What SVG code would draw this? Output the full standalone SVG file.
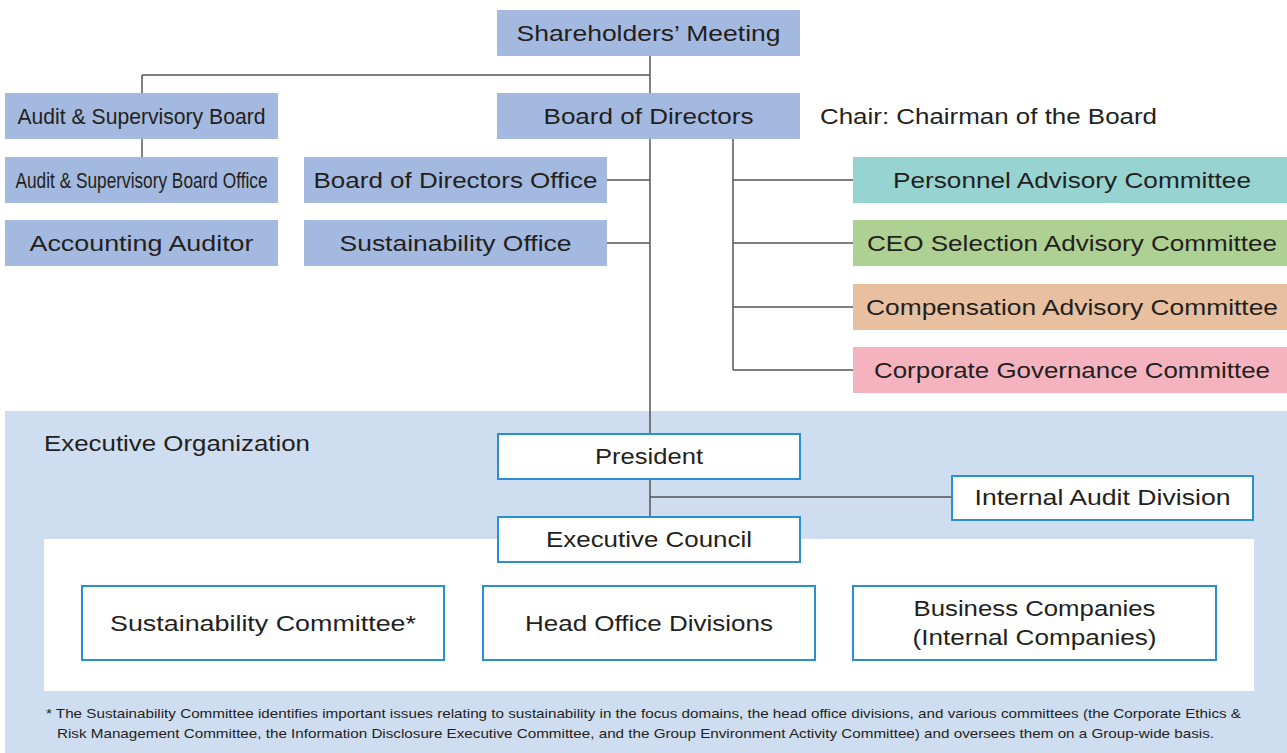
<svg xmlns="http://www.w3.org/2000/svg" width="1287" height="753" viewBox="0 0 1287 753">
<style>
text{font-family:"Liberation Sans",Arial,sans-serif;fill:#231f20;font-size:22px}
.b{fill:#a4b9df}
.w{fill:#fff;stroke:#2a8fd0;stroke-width:2}
.c{stroke:#555;stroke-width:1.5;fill:none}
.m{text-anchor:middle}
.fn{font-size:13px}
</style>
<rect x="0" y="0" width="1287" height="753" fill="#fff"/>
<rect x="5" y="411" width="1282" height="342" fill="#cfddf0"/>
<rect x="44" y="539" width="1210" height="152" fill="#fff"/>
<text x="44" y="451" textLength="266" lengthAdjust="spacingAndGlyphs">Executive Organization</text>
<g id="connectors">
<path class="c" d="M142,75H650M650,56V434M142,75V93M142,139V157M607,180H650M607,243H650M733,139V370M733,180H853M733,243H853M733,307H853M733,370H853M650,479V517M650,497H952"/>
</g>
<g id="shareholders"><rect class="b" x="497" y="10" width="303" height="46"/><text class="m" x="648.5" y="41" textLength="264" lengthAdjust="spacingAndGlyphs">Shareholders’ Meeting</text></g>
<g id="audit-board"><rect class="b" x="5" y="93" width="273" height="46"/><text class="m" x="141.5" y="124" textLength="248" lengthAdjust="spacingAndGlyphs">Audit &amp; Supervisory Board</text></g>
<g id="audit-office"><rect class="b" x="5" y="157" width="273" height="46"/><text class="m" x="141.5" y="188" textLength="252" lengthAdjust="spacingAndGlyphs">Audit &amp; Supervisory Board Office</text></g>
<g id="accounting"><rect class="b" x="5" y="220" width="273" height="46"/><text class="m" x="141.5" y="251" textLength="224" lengthAdjust="spacingAndGlyphs">Accounting Auditor</text></g>
<g id="board"><rect class="b" x="497" y="93" width="303" height="46"/><text class="m" x="648.5" y="124" textLength="210" lengthAdjust="spacingAndGlyphs">Board of Directors</text></g>
<text x="820" y="124" textLength="337" lengthAdjust="spacingAndGlyphs">Chair: Chairman of the Board</text>
<g id="board-office"><rect class="b" x="304" y="157" width="303" height="46"/><text class="m" x="455.5" y="188" textLength="284" lengthAdjust="spacingAndGlyphs">Board of Directors Office</text></g>
<g id="sust-office"><rect class="b" x="304" y="220" width="303" height="46"/><text class="m" x="455.5" y="251" textLength="232" lengthAdjust="spacingAndGlyphs">Sustainability Office</text></g>
<g id="personnel"><rect x="853" y="157" width="434" height="46" fill="#97d4d1"/><text class="m" x="1072" y="188" textLength="358" lengthAdjust="spacingAndGlyphs">Personnel Advisory Committee</text></g>
<g id="ceo"><rect x="853" y="220" width="434" height="46" fill="#aed092"/><text class="m" x="1072" y="251" textLength="410" lengthAdjust="spacingAndGlyphs">CEO Selection Advisory Committee</text></g>
<g id="compensation"><rect x="853" y="284" width="434" height="46" fill="#e8c0a0"/><text class="m" x="1072" y="315" textLength="412" lengthAdjust="spacingAndGlyphs">Compensation Advisory Committee</text></g>
<g id="governance"><rect x="853" y="347" width="434" height="46" fill="#f5b3c0"/><text class="m" x="1072" y="378" textLength="396" lengthAdjust="spacingAndGlyphs">Corporate Governance Committee</text></g>
<g id="president"><rect class="w" x="498" y="434" width="302" height="45"/><text class="m" x="649" y="464" textLength="108" lengthAdjust="spacingAndGlyphs">President</text></g>
<g id="internal-audit"><rect class="w" x="952" y="476" width="301" height="44"/><text class="m" x="1102.5" y="505" textLength="256" lengthAdjust="spacingAndGlyphs">Internal Audit Division</text></g>
<g id="exec-council"><rect class="w" x="498" y="517" width="302" height="45"/><text class="m" x="649" y="547" textLength="206" lengthAdjust="spacingAndGlyphs">Executive Council</text></g>
<g id="sust-committee"><rect class="w" x="82" y="586" width="362" height="74"/><text class="m" x="263" y="631" textLength="306" lengthAdjust="spacingAndGlyphs">Sustainability Committee*</text></g>
<g id="head-office"><rect class="w" x="483" y="586" width="332" height="74"/><text class="m" x="649" y="631" textLength="248" lengthAdjust="spacingAndGlyphs">Head Office Divisions</text></g>
<g id="business"><rect class="w" x="853" y="586" width="363" height="74"/><text class="m" x="1034.5" y="616" textLength="242" lengthAdjust="spacingAndGlyphs">Business Companies</text><text class="m" x="1034.5" y="645" textLength="244" lengthAdjust="spacingAndGlyphs">(Internal Companies)</text></g>
<text class="fn" x="46" y="718" textLength="1195" lengthAdjust="spacingAndGlyphs">* The Sustainability Committee identifies important issues relating to sustainability in the focus domains, the head office divisions, and various committees (the Corporate Ethics &amp;</text>
<text class="fn" x="57" y="738" textLength="1157" lengthAdjust="spacingAndGlyphs">Risk Management Committee, the Information Disclosure Executive Committee, and the Group Environment Activity Committee) and oversees them on a Group-wide basis.</text>
</svg>
